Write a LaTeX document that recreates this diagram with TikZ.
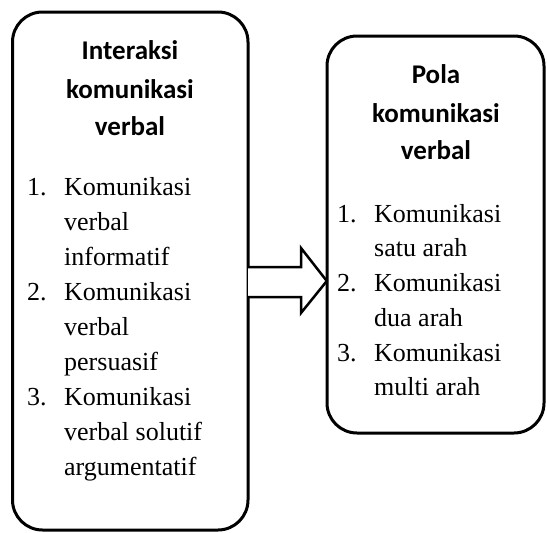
\documentclass[tikz,border=0pt]{standalone}
\usepackage{fontspec}
\setmainfont{Liberation Serif}
\newfontfamily\titlefont{Carlito}
\begin{document}
\begin{tikzpicture}[x=1pt,y=-1pt,
  panel/.style={draw=black,line width=3pt,rounded corners=30pt},
  title/.style={anchor=base,inner sep=0pt,font=\titlefont\bfseries\fontsize{27}{30}\selectfont},
  item/.style={anchor=base west,inner sep=0pt,font=\fontsize{26}{30}\selectfont},
  blockarrow/.style={draw=black,line width=2.5pt,fill=white,line join=miter}]
\useasboundingbox (0,0) rectangle (547,533);
% panels
\draw[panel] (12.5,12) rectangle (248,530);
\node[inner sep=0pt,minimum width=235.5pt,minimum height=518pt] (L) at (130.25,271) {};
\draw[panel] (327,36) rectangle (544,433);
\node[inner sep=0pt,minimum width=217pt,minimum height=397pt] (R) at (435.5,234.5) {};
% arrow
\coordinate (a0) at (L.east |- 0,267);
\coordinate (a1) at (L.east |- 0,297);
\coordinate (tip) at (R.west |- 0,281);
\draw[blockarrow] (a0) -- (301,267) -- (301,248) -- (tip) -- (301,313) -- (301,297) -- (a1);
% left titles
\node[title] (lt1) at (130,59) {Interaksi};
\node[title] (lt2) at (130,98) {komunikasi};
\node[title] (lt3) at (130,135) {verbal};
% left list
\node[item] (ln1) at (27,195) {1.};
\node[item] (li1a) at (64,195) {Komunikasi};
\node[item] (li1b) at (64,230) {verbal};
\node[item] (li1c) at (64,265) {informatif};
\node[item] (ln2) at (27,300) {2.};
\node[item] (li2a) at (64,300) {Komunikasi};
\node[item] (li2b) at (64,335) {verbal};
\node[item] (li2c) at (64,370) {persuasif};
\node[item] (ln3) at (27,405) {3.};
\node[item] (li3a) at (64,405) {Komunikasi};
\node[item] (li3b) at (64,440) {verbal solutif};
\node[item] (li3c) at (64,475) {argumentatif};
% right titles
\node[title] (rt1) at (436,83) {Pola};
\node[title] (rt2) at (436,122) {komunikasi};
\node[title] (rt3) at (436,159) {verbal};
% right list
\node[item] (rn1) at (337,222) {1.};
\node[item] (ri1a) at (374,222) {Komunikasi};
\node[item] (ri1b) at (374,256) {satu arah};
\node[item] (rn2) at (337,291) {2.};
\node[item] (ri2a) at (374,291) {Komunikasi};
\node[item] (ri2b) at (374,326) {dua arah};
\node[item] (rn3) at (337,361) {3.};
\node[item] (ri3a) at (374,361) {Komunikasi};
\node[item] (ri3b) at (374,395) {multi arah};
\end{tikzpicture}
\end{document}
